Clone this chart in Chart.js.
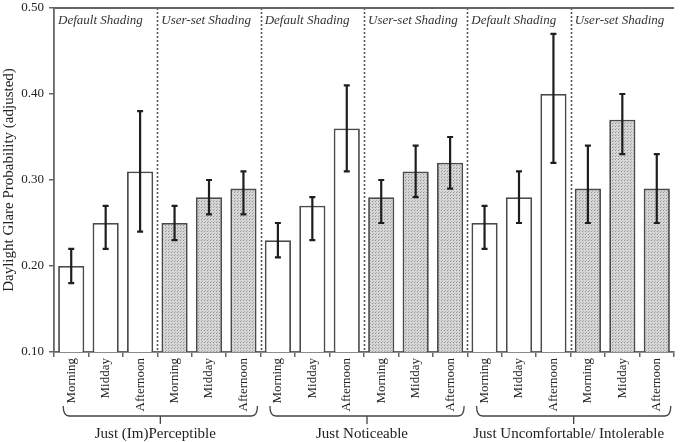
<!DOCTYPE html>
<html>
<head>
<meta charset="utf-8">
<script src="https://cdn.jsdelivr.net/npm/chart.js@4/dist/chart.umd.min.js"></script>
<style>
  html, body { margin: 0; padding: 0; background: #fff; }
  #wrap { width: 683px; height: 442px; position: relative; }
</style>
</head>
<body>
<div id="wrap"><canvas id="glare" width="683" height="442"></canvas></div>
<script>
const timesOfDay = ['Morning', 'Midday', 'Afternoon'];
const levels = ['Just (Im)Perceptible', 'Just Noticeable', 'Just Uncomfortable/ Intolerable'];
const shadingModes = ['Default Shading', 'User-set Shading'];

// six groups of three bars (default, user-set per level)
const dgpMean = [0.20, 0.25, 0.31, 0.25, 0.28, 0.29,
                 0.23, 0.27, 0.36, 0.28, 0.31, 0.32,
                 0.25, 0.28, 0.40, 0.29, 0.37, 0.29];
const dgpLow  = [0.18, 0.22, 0.24, 0.23, 0.26, 0.26,
                 0.21, 0.23, 0.31, 0.25, 0.28, 0.29,
                 0.22, 0.25, 0.32, 0.25, 0.33, 0.25];
const dgpHigh = [0.22, 0.27, 0.38, 0.27, 0.30, 0.31,
                 0.25, 0.28, 0.41, 0.30, 0.34, 0.35,
                 0.27, 0.31, 0.47, 0.34, 0.40, 0.33];
const yTicks = [0.10, 0.20, 0.30, 0.40, 0.50];

const SERIF = "'Liberation Serif', 'DejaVu Serif', serif";

const labels = [];
const isUserSet = [];
levels.forEach(() => {
   shadingModes.forEach((m, mi) => {
      timesOfDay.forEach(t => { labels.push(t); isUserSet.push(mi === 1); });
   });
});

// dotted grey fill for user-set bars
const pc = document.createElement('canvas');
pc.width = 3; pc.height = 3;
const pctx = pc.getContext('2d');
pctx.fillStyle = '#d6d6d6';
pctx.fillRect(0, 0, 3, 3);
pctx.fillStyle = '#929292';
pctx.fillRect(0, 0, 1, 1);
pctx.fillStyle = '#b0b0b0';
pctx.fillRect(1, 2, 1, 1);
const dotFill = pctx.createPattern(pc, 'repeat');

const decorPlugin = {
   id: 'decor',
   afterDatasetsDraw(chart) {
      const { ctx, chartArea: a, scales: { x, y } } = chart;
      ctx.save();
      // error bars
      ctx.strokeStyle = '#1e1e1e';
      ctx.lineWidth = 2.2;
      dgpMean.forEach((v, i) => {
         const px = x.getPixelForValue(i);
         const y1 = y.getPixelForValue(dgpLow[i]);
         const y2 = y.getPixelForValue(dgpHigh[i]);
         ctx.beginPath();
         ctx.moveTo(px, y1); ctx.lineTo(px, y2);
         ctx.moveTo(px - 3, y1); ctx.lineTo(px + 3, y1);
         ctx.moveTo(px - 3, y2); ctx.lineTo(px + 3, y2);
         ctx.stroke();
      });
      // dotted separators between groups
      ctx.strokeStyle = '#555';
      ctx.lineWidth = 1.6;
      ctx.setLineDash([2, 2]);
      for (let g = 3; g < labels.length; g += 3) {
         const sx = Math.round((x.getPixelForValue(g - 1) + x.getPixelForValue(g)) / 2) + 0.5;
         ctx.beginPath();
         ctx.moveTo(sx, a.top); ctx.lineTo(sx, a.bottom);
         ctx.stroke();
      }
      ctx.setLineDash([]);
      // top border
      ctx.strokeStyle = '#666';
      ctx.lineWidth = 1.8;
      ctx.beginPath();
      ctx.moveTo(a.left, a.top); ctx.lineTo(a.right, a.top);
      ctx.stroke();
      // group headers
      ctx.fillStyle = '#333';
      ctx.font = 'italic 13px ' + SERIF;
      ctx.textBaseline = 'middle';
      ctx.textAlign = 'left';
      for (let g = 0; g < labels.length; g += 3) {
         const left = g === 0 ? a.left : (x.getPixelForValue(g - 1) + x.getPixelForValue(g)) / 2;
         ctx.fillText(shadingModes[(g / 3) % 2], left + 4, a.top + 13);
      }
      // braces and level labels
      ctx.strokeStyle = '#444';
      ctx.lineWidth = 1.3;
      ctx.font = '15px ' + SERIF;
      ctx.textAlign = 'center';
      levels.forEach((lv, li) => {
         const x0 = x.getPixelForValue(li * 6) - 8;
         const x1 = x.getPixelForValue(li * 6 + 5) + 14;
         const cx = (x0 + x1) / 2;
         const by = 416;
         ctx.beginPath();
         ctx.moveTo(x0, 406);
         ctx.quadraticCurveTo(x0, by, x0 + 6, by);
         ctx.lineTo(x1 - 6, by);
         ctx.quadraticCurveTo(x1, by, x1, 406);
         ctx.moveTo(cx, by); ctx.lineTo(cx, by + 8);
         ctx.stroke();
         ctx.fillStyle = '#222';
         ctx.fillText(lv, cx - 5, 434);
      });
      ctx.restore();
   }
};

new Chart(document.getElementById('glare'), {
   type: 'bar',
   data: {
      labels: labels,
      datasets: [{
         data: dgpMean,
         backgroundColor: isUserSet.map(u => u ? dotFill : '#ffffff'),
         borderColor: '#4a4a4a',
         borderWidth: 1.8,
         borderSkipped: false,
         barPercentage: 0.76,
         categoryPercentage: 1.0,
      }]
   },
   options: {
      responsive: false,
      animation: false,
      devicePixelRatio: 1,
      layout: { padding: { left: 0, right: 9, top: 0, bottom: 0 } },
      scales: {
         x: {
            offset: true,
            border: { color: '#666', width: 1.8 },
            grid: { display: true, drawOnChartArea: false, offset: true, tickLength: 5, color: '#666', lineWidth: 1.5 },
            ticks: {
               autoSkip: false,
               minRotation: 90,
               maxRotation: 90,
               padding: 1,
               color: '#222',
               font: { family: SERIF, size: 13 }
            },
            afterFit: s => { s.height = 90; }
         },
         y: {
            min: 0.10,
            max: 0.50,
            afterBuildTicks: s => { s.ticks = yTicks.map(v => ({ value: v })); },
            border: { color: '#666', width: 1.8 },
            grid: { display: true, drawOnChartArea: false, tickLength: 5, color: '#666', lineWidth: 1.5 },
            ticks: {
               autoSkip: false,
               padding: 5,
               color: '#222',
               font: { family: SERIF, size: 13 },
               callback: v => Number(v).toFixed(2)
            },
            title: {
               display: true,
               text: 'Daylight Glare Probability (adjusted)',
               color: '#222',
               padding: { top: 0, bottom: 0 },
               font: { family: SERIF, size: 15 }
            },
            afterFit: s => { s.width = 54; s.paddingTop = 8; }
         }
      },
      plugins: {
         legend: { display: false },
         tooltip: { enabled: false }
      }
   },
   plugins: [decorPlugin]
});
</script>
</body>
</html>
